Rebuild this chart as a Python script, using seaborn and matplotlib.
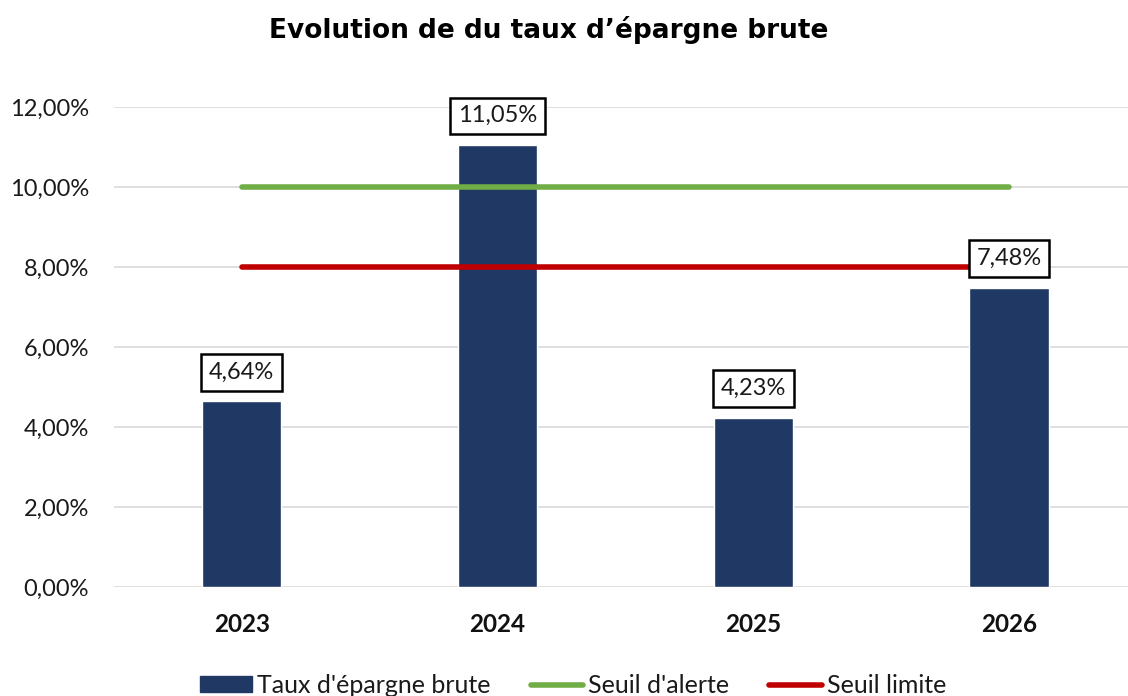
import pandas as pd
import numpy as np
import matplotlib.pyplot as plt
import seaborn as sns
from matplotlib.lines import Line2D
from matplotlib.patches import Patch

# données
annees = ['2023', '2024', '2025', '2026']
taux_epargne = [0.0464, 0.1105, 0.0423, 0.0748]
seuil_alerte = [0.10, 0.10, 0.10, 0.10]
seuil_limite = [0.08, 0.08, 0.08, 0.08]
labels = ['4,64%', '11,05%', '4,23%', '7,48%']

df = pd.DataFrame({'annee': annees, 'taux': taux_epargne})

sns.set_theme(style='white')
plt.rcParams['font.family'] = ['Lato', 'DejaVu Sans']

bleu = '#1f3864'
vert = '#70ad47'
rouge = '#c00000'

fig = plt.figure(figsize=(11.28, 6.96), dpi=100)
ax = fig.add_axes([0.101, 0.1566, 0.907, 0.6897])

sns.barplot(data=df, x='annee', y='taux', color=bleu, width=0.31, saturation=1, ax=ax, zorder=2)

x = np.arange(len(annees))
ax.plot(x, seuil_alerte, color=vert, lw=4, solid_capstyle='round', zorder=3)
ax.plot(x, seuil_limite, color=rouge, lw=4, solid_capstyle='round', zorder=3)

# étiquettes encadrées
for i, (v, lab) in enumerate(zip(taux_epargne, labels)):
    ax.annotate(lab, (i, v), xytext=(0, 21), textcoords='offset points',
                ha='center', va='center', fontsize=17, color='#1a1a1a', zorder=5,
                bbox=dict(boxstyle='square,pad=0.33', fc='white', ec='black', lw=1.8))

ax.set_ylim(0, 0.12)
ax.set_xlim(-0.5, 3.5)
ax.set_yticks(np.arange(0, 0.121, 0.02))
ax.set_yticklabels([f'{t:.2f}%'.replace('.', ',') for t in np.arange(0, 12.1, 2)], fontsize=17)
ax.yaxis.grid(True, color='#d9d9d9', lw=1.2, zorder=0)
ax.set_axisbelow(True)
for s in ax.spines.values():
    s.set_visible(False)
ax.tick_params(axis='y', length=0, pad=18, colors='#1a1a1a')
ax.tick_params(axis='x', length=0, pad=19)
for t in ax.get_xticklabels():
    t.set_fontweight('bold')
    t.set_fontsize(17.5)
    t.set_color('#111111')
ax.set_xlabel('')
ax.set_ylabel('')

fig.text(0.486, 0.957, "Evolution de du taux d\u2019épargne brute", ha='center', va='center',
         fontsize=19, fontweight='bold', color='black', family=['DejaVu Sans'])

handles = [Patch(facecolor=bleu, edgecolor=bleu),
           Line2D([0], [0], color=vert, lw=4, solid_capstyle='round'),
           Line2D([0], [0], color=rouge, lw=4, solid_capstyle='round')]
fig.legend(handles, ["Taux d'épargne brute", "Seuil d'alerte", "Seuil limite"],
           loc='lower center', bbox_to_anchor=(0.508, -0.034), ncol=3, frameon=False,
           fontsize=18, handlelength=2.1, handleheight=0.6, handletextpad=0.2,
           columnspacing=1.6, labelcolor='#1a1a1a')

fig.savefig('out.png', dpi=100)
